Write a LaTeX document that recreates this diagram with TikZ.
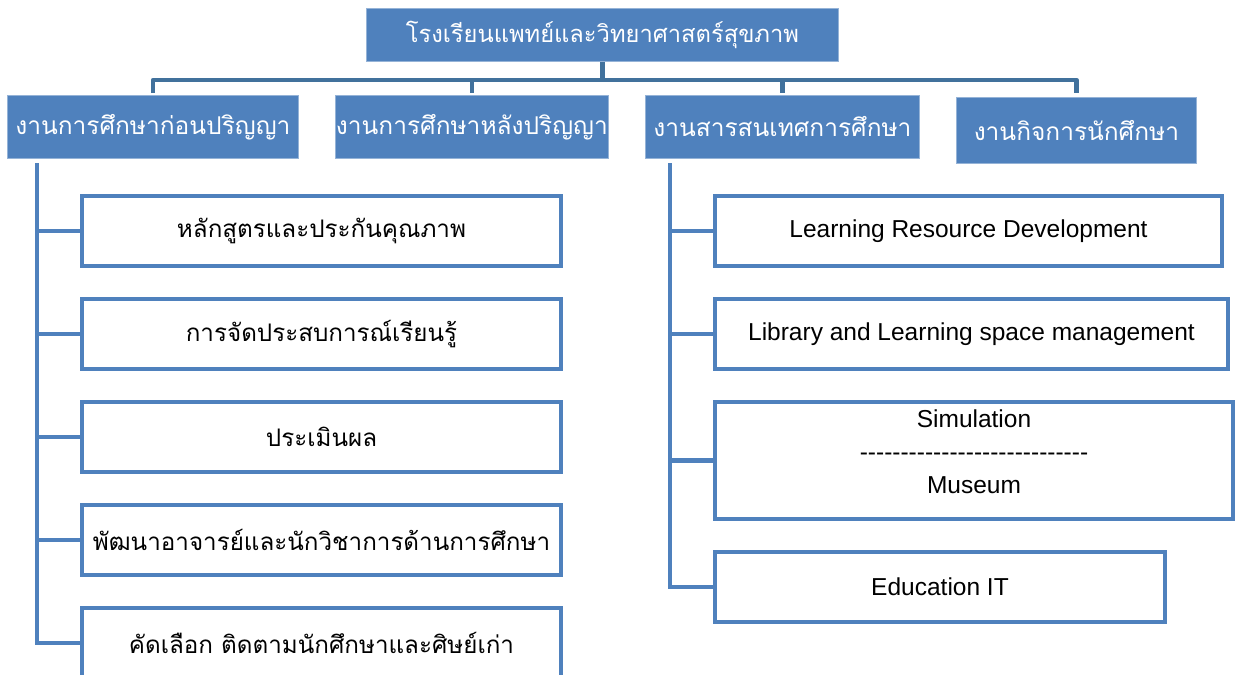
\documentclass[tikz,border=0pt]{standalone}
\usepackage{fontspec}
\setmainfont{Liberation Sans}
\newfontfamily\thai[Script=Thai]{Loma}
\definecolor{boxblue}{HTML}{4F81BD}
\definecolor{barblue}{HTML}{41719C}
\newcommand\dashrow{\foreach \i in {1,...,28}{-\kern0pt}}
\begin{document}
\begin{tikzpicture}[x=1pt,y=-1pt,
  headbox/.style={fill=boxblue,draw=boxblue!60!white,line width=0.8pt,text=white,inner sep=0pt,anchor=north west},
  childbox/.style={fill=white,draw=boxblue,line width=4pt,text=black,inner sep=0pt,anchor=north west},
  barline/.style={draw=barblue,line width=4.5pt},
  sideline/.style={draw=boxblue,line width=4.5pt}]
\useasboundingbox (0,0) rectangle (1235,675);
% top
\node[headbox,minimum width=472pt,minimum height=53pt,font=\thai\fontsize{23.7}{28}\selectfont] (top) at (366,8) {โรงเรียนแพทย์และวิทยาศาสตร์สุขภาพ};
% level 1
\tikzset{l1/.style={headbox,minimum height=63pt,font=\thai\fontsize{24.5}{28}\selectfont}}
\node[l1,minimum width=291pt] (a1) at (7,95) {งานการศึกษาก่อนปริญญา};
\node[l1,minimum width=273pt] (a2) at (335,95) {งานการศึกษาหลังปริญญา};
\node[l1,minimum width=274pt] (a3) at (645,95) {งานสารสนเทศการศึกษา};
\node[l1,minimum width=240pt,minimum height=66pt] (a4) at (956,97) {งานกิจการนักศึกษา};
% bar
\coordinate (bar) at (602,80);
\draw[barline] (top.south) -- (top.south |- bar);
\draw[barline,line join=round] (a1.north |- 0,93) -- (a1.north |- bar) -- (a4.north |- bar) -- (a4.north |- 0,93);
\draw[barline] (a2.north |- bar) -- (a2.north |- 0,93);
\draw[barline] (a3.north |- bar) -- (a3.north |- 0,93);
% left children
\tikzset{lt/.style={childbox,minimum width=479pt,minimum height=70pt,font=\thai\fontsize{24.2}{28}\selectfont}}
\node[lt] (b1) at (80,194) {หลักสูตรและประกันคุณภาพ};
\node[lt] (b2) at (80,297) {การจัดประสบการณ์เรียนรู้};
\node[lt] (b3) at (80,400) {ประเมินผล};
\node[lt] (b4) at (80,503) {พัฒนาอาจารย์และนักวิชาการด้านการศึกษา};
\node[lt] (b5) at (80,606) {คัดเลือก ติดตามนักศึกษาและศิษย์เก่า};
\coordinate (lv) at (37,163);
\draw[sideline] (lv) |- (b5.west);
\foreach \n in {b1,b2,b3,b4} \draw[sideline] (\n.west) -- (\n.west -| lv);
% right children
\tikzset{rt/.style={childbox,minimum height=70pt,font=\fontsize{24.5}{28}\selectfont}}
\node[rt,minimum width=507pt] (c1) at (713,194) {Learning Resource Development};
\node[rt,minimum width=513pt] (c2) at (713,297) {Library and Learning space management};
\node[rt,minimum width=518pt,minimum height=117pt,align=center,font=\fontsize{24.5}{33}\selectfont] (c3) at (713,400) {Simulation\\\dashrow\\Museum\rule[-17pt]{0pt}{1pt}};
\node[rt,minimum width=450pt] (c4) at (713,550) {Education IT};
\coordinate (rv) at (670,163);
\draw[sideline] (rv) |- (c4.west);
\foreach \n in {c1,c2,c3} \draw[sideline] (\n.west) -- (\n.west -| rv);
\end{tikzpicture}
\end{document}
